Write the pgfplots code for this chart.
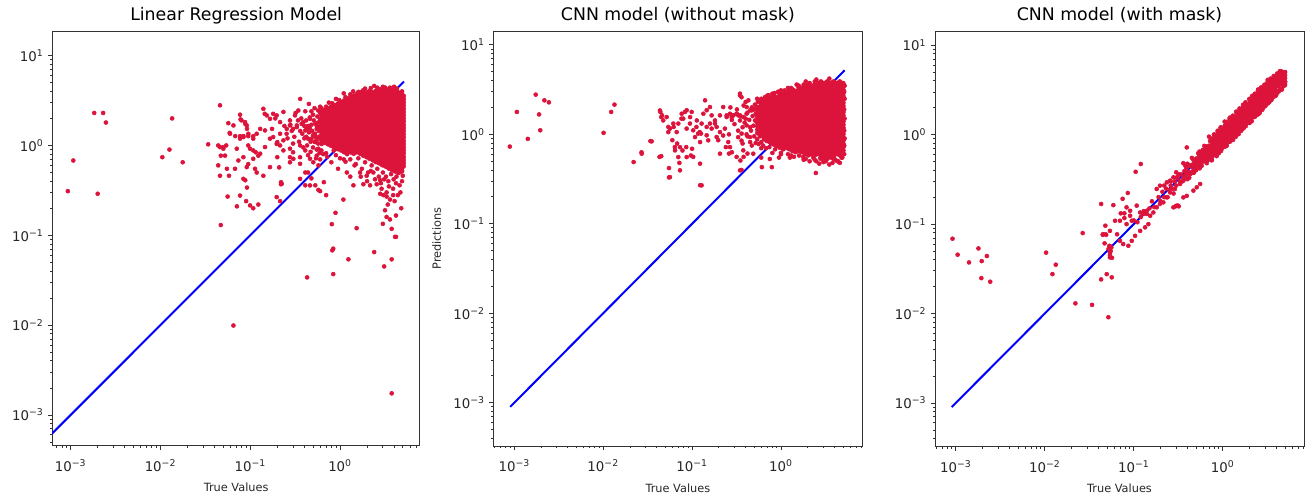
\documentclass[border=0pt]{standalone}
\usepackage{fontspec}
\setmainfont{DejaVu Sans}
\usepackage{pgfplots}
\pgfplotsset{compat=1.18}
\definecolor{crimson}{HTML}{DC143C}
\newcommand\ee[1]{10\textsuperscript{#1}}
\pgfplotsset{
  scale only axis,
  axis line style={draw=black!80, line width=0.75pt},
  tick align=outside, xtick pos=bottom, ytick pos=left,
  major tick length=3pt, minor tick length=1.8pt,
  tick style={black!80, line width=0.6pt},
  tick label style={font=\fontsize{10}{12}\selectfont, text=black!85},
  xticklabel style={yshift=-4pt},
  title style={at={(0.5,1)}, anchor=base, yshift=2pt, font=\fontsize{13}{15}\selectfont},
  xlabel style={at={(0.5,0)}, anchor=base, yshift=-34.7pt, font=\fontsize{8.5}{10}\selectfont, text=black!85},
  ylabel style={at={(-0.154,0.5)}, anchor=center, font=\fontsize{8.5}{10}\selectfont, text=black!85},
  redpts/.style={only marks, mark=*, mark size=1.5pt, color=crimson, mark options={draw=none, fill=crimson}},
  densepts/.style={only marks, mark=*, mark size=1.9pt, color=crimson, mark options={draw=none, fill=crimson}},
  bandpts/.style={only marks, mark=*, mark size=1.7pt, color=crimson, mark options={draw=none, fill=crimson}},
  fitline/.style={color=blue, line width=1.5pt, no marks},
}
\def\minorlist{2e-4,3e-4,4e-4,5e-4,6e-4,7e-4,8e-4,9e-4,2e-3,3e-3,4e-3,5e-3,6e-3,7e-3,8e-3,9e-3,0.02,0.03,0.04,0.05,0.06,0.07,0.08,0.09,0.2,0.3,0.4,0.5,0.6,0.7,0.8,0.9,2,3,4,5,6,7,8,9}
\begin{document}
\begin{tikzpicture}
\path[use as bounding box] (0,0) rectangle (984pt,372.75pt);
% ---------------- Panel 1 ----------------
\begin{axis}[xmode=log, ymode=log, anchor=south west, at={(39.2pt,38.5pt)}, width=275.8pt, height=311pt,
  xmin=6.24e-4, xmax=7.77, ymin=4.55e-4, ymax=18.8,
  xtick={1e-3,1e-2,1e-1,1}, xticklabels={\ee{−3},\ee{−2},\ee{−1},\ee{0}},
  ytick={1e-3,1e-2,1e-1,1,10}, yticklabels={\ee{−3},\ee{−2},\ee{−1},\ee{0},\ee{1}},
  minor xtick/.expanded=\minorlist, minor ytick/.expanded=\minorlist,
  title={Linear Regression Model}, xlabel={True Values}]
\addplot[redpts] coordinates {
(9.3e-4,0.31) (1.07e-3,0.68) (1.83e-3,2.3) (2.3e-3,2.3) (2.47e-3,1.8) (2.0e-3,0.29)
(0.0105,0.74) (0.0126,0.9) (0.0135,2.0) (0.0177,0.65) (0.034,1.03) (0.046,2.8) (0.047,0.13) (0.065,0.0099) (3.76,1.74e-3)
(0.43,0.034) (0.84,0.037) (1.24,0.054) (0.84,0.071) (0.82,0.068) (2.4,0.065) (3.1,0.045) (3.76,0.054) (4.1,0.096) (4.2,0.096) (1.53,0.12) (0.81,0.133) (0.89,0.178) (3.17,0.19) (3.3,0.16) (4.2,0.166) (3.0,0.134) (3.76,0.118) (3.6,0.15)
(0.077,2.2) (0.078,1.95) (0.088,1.74) (0.092,1.53) (0.065,1.67) (0.059,1.38) (0.068,1.27) (0.077,1.27) (0.084,1.27) (0.095,1.27) (0.108,1.27) (0.044,1.0) (0.046,0.96) (0.05,0.96) (0.054,1.0) (0.047,0.77) (0.044,0.6) (0.046,0.46) (0.055,0.55) (0.058,0.46) (0.056,0.27) (0.071,0.21) (0.088,0.41) (0.092,0.34) (0.09,0.24) (0.108,0.2) (0.123,0.22) (0.095,1.0) (0.108,0.88) (0.115,0.84) (0.123,0.77) (0.108,0.71) (0.095,0.62) (0.113,0.55) (0.118,0.5) (0.14,0.46) (0.14,2.56) (0.145,2.25) (0.153,2.16) (0.166,1.98) (0.18,2.25) (0.19,2.0) (0.175,1.53) (0.18,1.24) (0.215,1.35) (0.234,1.14) (0.254,1.35) (0.277,1.67) (0.30,1.53) (0.146,1.47) (0.166,1.19) (0.2,1.09) (0.215,1.0) (0.234,0.88) (0.277,0.74) (0.30,0.84) (0.2,0.74) (0.21,0.57) (0.22,0.39) (0.215,0.24) (0.22,0.37) (0.33,1.67) (0.374,1.74) (0.41,1.47) (0.44,1.19) (0.48,1.19) (0.53,1.09) (0.574,0.92) (0.36,1.0) (0.41,0.88) (0.36,3.3) (0.41,0.5) (0.44,0.5) (0.48,0.43) (0.53,0.36) (0.574,0.32) (0.6,0.31) (0.66,0.39) (0.7,0.28) (0.41,0.36) (1.09,0.25) (1.41,0.36) (1.82,0.37) (2.16,0.36) (2.56,0.37) (2.8,0.41) (1.19,0.5) (1.67,0.5) (1.98,0.46) (2.35,0.5) (2.8,0.29) (3.04,0.28) (3.3,0.27) (3.6,0.25) (3.9,0.28) (4.65,1.09) (4.86,0.77) (4.5,0.5)
(0.057,1.77) (0.08,1.9) (0.0875,1.82) (0.0914,1.67) (0.077,1.19) (0.0839,1.24) (0.0953,1.35) (0.0596,1.35) (0.0502,0.92) (0.0524,0.77) (0.0708,0.92) (0.0738,0.68) (0.0839,0.74) (0.0995,0.92) (0.108,1.19) (0.118,1.35) (0.129,1.53) (0.197,2.16) (0.215,1.82) (0.234,2.36) (0.255,1.53) (0.277,1.9) (0.315,2.16) (0.343,2.45) (0.39,1.82) (0.425,1.53) (0.463,1.98) (0.527,1.35) (0.55,1.53) (0.625,1.04) (0.55,0.77) (0.463,0.71) (0.359,0.74) (0.302,0.71) (0.277,0.92) (0.197,1.04) (0.146,0.96) (0.129,0.81) (0.166,0.574) (0.277,0.65) (0.359,0.625) (0.504,0.65) (0.574,0.6) (0.359,0.425) (0.463,0.359) (0.0914,0.574) (0.0677,0.55) (0.0839,0.425) (0.077,0.277) (0.0995,0.215) (0.224,0.374) (0.197,0.266)
(0.45,2.9) (0.6,2.7) (0.75,3.0) (0.9,3.3) (1.1,3.8) (1.4,4.0) (1.9,4.3) (2.4,4.6) (3.2,4.4) (4.0,4.5) (4.2,0.38) (3.5,0.35) (3.9,0.33) (4.9,0.4) (3.1,0.42) (2.7,0.45) (2.2,0.52) (1.5,0.62) (1.1,0.7) (0.9,0.78) (0.7,0.82) (4.7,0.3) (4.4,0.28) (3.3,0.3) (2.0,0.4) (1.7,0.45) (0.40,1.2) (0.43,1.0) (0.45,1.4) (0.48,1.7) (0.5,2.2) (0.52,1.1) (0.55,0.9) (0.57,1.8) (0.6,2.3) (0.58,1.25) (0.62,0.88) (0.47,0.85) (0.42,1.9) (0.38,1.35) (0.35,1.1) (0.33,1.6) (0.31,1.25) (0.29,1.45) (0.26,1.2) (0.24,1.65) (0.6,0.7) (0.65,0.8)
(0.36,1.45) (0.37,2.0) (0.39,0.95) (0.41,2.4) (0.42,1.25) (0.44,1.65) (0.44,0.78) (0.46,2.05) (0.47,1.1) (0.49,1.45) (0.5,0.95) (0.51,1.9) (0.52,2.6) (0.53,1.25) (0.54,0.72) (0.55,1.65) (0.56,2.1) (0.57,1.05) (0.58,1.45) (0.59,0.82) (0.6,1.95) (0.61,1.2) (0.62,2.6) (0.5,1.3) (0.46,1.55) (0.53,1.75) (0.57,2.45) (0.59,1.6) (0.55,1.15) (0.48,2.4) (0.4,1.65) (0.34,1.9) (0.32,2.3) (0.3,1.05) (0.28,1.7)
(1.0,0.72) (1.15,0.66) (1.3,0.7) (1.45,0.6) (1.6,0.72) (1.75,0.55) (1.9,0.65) (2.05,0.5) (2.25,0.6) (2.45,0.42) (2.6,0.55) (2.85,0.38) (3.0,0.5) (3.25,0.45) (3.45,0.4) (3.7,0.48) (3.95,0.42) (4.25,0.45) (4.6,0.36) (5.0,0.46) (4.05,0.24) (3.4,0.22) (4.8,0.2) (2.9,0.33) (1.3,0.45) (0.95,0.55) (0.8,0.65) (0.72,0.75) (1.2,0.8) (0.85,0.88)
(0.7,2.7) (0.82,2.95) (0.98,3.2) (1.15,3.45) (1.3,3.7) (1.6,3.95) (1.8,4.1) (2.2,4.35) (2.6,4.4) (3.0,4.5) (3.6,4.4) (4.3,4.3) (4.9,4.0)
};
\addplot[densepts] coordinates {
(0.63,1.13) (0.63,1.23) (0.63,1.33) (0.63,1.45) (0.63,1.57) (0.63,1.70) (0.63,1.85) (0.63,2.0) (0.63,2.17) (0.63,2.36)
(0.68,1.08) (0.68,1.18) (0.68,1.28) (0.68,1.39) (0.68,1.51) (0.68,1.63) (0.68,1.77) (0.68,1.92) (0.68,2.08) (0.68,2.26) (0.68,2.46)
(0.74,1.04) (0.74,1.13) (0.74,1.23) (0.74,1.33) (0.74,1.45) (0.74,1.57) (0.74,1.70) (0.74,1.85) (0.74,2.0) (0.74,2.17) (0.74,2.36) (0.74,2.56)
(0.80,1.00) (0.80,1.08) (0.80,1.18) (0.80,1.28) (0.80,1.39) (0.80,1.51) (0.80,1.63) (0.80,1.77) (0.80,1.92) (0.80,2.08) (0.80,2.26) (0.80,2.46) (0.80,2.67)
(0.87,0.96) (0.87,1.04) (0.87,1.13) (0.87,1.23) (0.87,1.33) (0.87,1.45) (0.87,1.57) (0.87,1.70) (0.87,1.85) (0.87,2.0) (0.87,2.17) (0.87,2.36) (0.87,2.56) (0.87,2.78)
(0.95,0.92) (0.95,1.00) (0.95,1.08) (0.95,1.18) (0.95,1.28) (0.95,1.39) (0.95,1.51) (0.95,1.63) (0.95,1.77) (0.95,1.92) (0.95,2.08) (0.95,2.26) (0.95,2.46) (0.95,2.67) (0.95,2.89)
(1.03,0.89) (1.03,0.96) (1.03,1.04) (1.03,1.13) (1.03,1.23) (1.03,1.33) (1.03,1.45) (1.03,1.57) (1.03,1.70) (1.03,1.85) (1.03,2.0) (1.03,2.17) (1.03,2.36) (1.03,2.56) (1.03,2.78) (1.03,3.01)
(1.12,0.85) (1.12,0.92) (1.12,1.00) (1.12,1.08) (1.12,1.18) (1.12,1.28) (1.12,1.39) (1.12,1.51) (1.12,1.63) (1.12,1.77) (1.12,1.92) (1.12,2.08) (1.12,2.26) (1.12,2.46) (1.12,2.67) (1.12,2.89) (1.12,3.14)
(1.21,0.89) (1.21,0.96) (1.21,1.04) (1.21,1.13) (1.21,1.23) (1.21,1.33) (1.21,1.45) (1.21,1.57) (1.21,1.70) (1.21,1.85) (1.21,2.0) (1.21,2.17) (1.21,2.36) (1.21,2.56) (1.21,2.78) (1.21,3.01) (1.21,3.27)
(1.31,0.85) (1.31,0.92) (1.31,1.00) (1.31,1.08) (1.31,1.18) (1.31,1.28) (1.31,1.39) (1.31,1.51) (1.31,1.63) (1.31,1.77) (1.31,1.92) (1.31,2.08) (1.31,2.26) (1.31,2.46) (1.31,2.67) (1.31,2.89) (1.31,3.14) (1.31,3.41)
(1.42,0.82) (1.42,0.89) (1.42,0.96) (1.42,1.04) (1.42,1.13) (1.42,1.23) (1.42,1.33) (1.42,1.45) (1.42,1.57) (1.42,1.70) (1.42,1.85) (1.42,2.0) (1.42,2.17) (1.42,2.36) (1.42,2.56) (1.42,2.78) (1.42,3.01) (1.42,3.27) (1.42,3.55)
(1.55,0.85) (1.55,0.92) (1.55,1.00) (1.55,1.08) (1.55,1.18) (1.55,1.28) (1.55,1.39) (1.55,1.51) (1.55,1.63) (1.55,1.77) (1.55,1.92) (1.55,2.08) (1.55,2.26) (1.55,2.46) (1.55,2.67) (1.55,2.89) (1.55,3.14) (1.55,3.41) (1.55,3.70)
(1.68,0.82) (1.68,0.89) (1.68,0.96) (1.68,1.04) (1.68,1.13) (1.68,1.23) (1.68,1.33) (1.68,1.45) (1.68,1.57) (1.68,1.70) (1.68,1.85) (1.68,2.0) (1.68,2.17) (1.68,2.36) (1.68,2.56) (1.68,2.78) (1.68,3.01) (1.68,3.27) (1.68,3.55) (1.68,3.85)
(1.82,0.78) (1.82,0.85) (1.82,0.92) (1.82,1.00) (1.82,1.08) (1.82,1.18) (1.82,1.28) (1.82,1.39) (1.82,1.51) (1.82,1.63) (1.82,1.77) (1.82,1.92) (1.82,2.08) (1.82,2.26) (1.82,2.46) (1.82,2.67) (1.82,2.89) (1.82,3.14) (1.82,3.41) (1.82,3.70)
(1.98,0.75) (1.98,0.82) (1.98,0.89) (1.98,0.96) (1.98,1.04) (1.98,1.13) (1.98,1.23) (1.98,1.33) (1.98,1.45) (1.98,1.57) (1.98,1.70) (1.98,1.85) (1.98,2.0) (1.98,2.17) (1.98,2.36) (1.98,2.56) (1.98,2.78) (1.98,3.01) (1.98,3.27) (1.98,3.55) (1.98,3.85)
(2.14,0.72) (2.14,0.78) (2.14,0.85) (2.14,0.92) (2.14,1.00) (2.14,1.08) (2.14,1.18) (2.14,1.28) (2.14,1.39) (2.14,1.51) (2.14,1.63) (2.14,1.77) (2.14,1.92) (2.14,2.08) (2.14,2.26) (2.14,2.46) (2.14,2.67) (2.14,2.89) (2.14,3.14) (2.14,3.41) (2.14,3.70) (2.14,4.01)
(2.33,0.69) (2.33,0.75) (2.33,0.82) (2.33,0.89) (2.33,0.96) (2.33,1.04) (2.33,1.13) (2.33,1.23) (2.33,1.33) (2.33,1.45) (2.33,1.57) (2.33,1.70) (2.33,1.85) (2.33,2.0) (2.33,2.17) (2.33,2.36) (2.33,2.56) (2.33,2.78) (2.33,3.01) (2.33,3.27) (2.33,3.55) (2.33,3.85)
(2.52,0.66) (2.52,0.72) (2.52,0.78) (2.52,0.85) (2.52,0.92) (2.52,1.00) (2.52,1.08) (2.52,1.18) (2.52,1.28) (2.52,1.39) (2.52,1.51) (2.52,1.63) (2.52,1.77) (2.52,1.92) (2.52,2.08) (2.52,2.26) (2.52,2.46) (2.52,2.67) (2.52,2.89) (2.52,3.14) (2.52,3.41) (2.52,3.70) (2.52,4.01)
(2.74,0.64) (2.74,0.69) (2.74,0.75) (2.74,0.82) (2.74,0.89) (2.74,0.96) (2.74,1.04) (2.74,1.13) (2.74,1.23) (2.74,1.33) (2.74,1.45) (2.74,1.57) (2.74,1.70) (2.74,1.85) (2.74,2.0) (2.74,2.17) (2.74,2.36) (2.74,2.56) (2.74,2.78) (2.74,3.01) (2.74,3.27) (2.74,3.55) (2.74,3.85) (2.74,4.18)
(2.97,0.61) (2.97,0.66) (2.97,0.72) (2.97,0.78) (2.97,0.85) (2.97,0.92) (2.97,1.00) (2.97,1.08) (2.97,1.18) (2.97,1.28) (2.97,1.39) (2.97,1.51) (2.97,1.63) (2.97,1.77) (2.97,1.92) (2.97,2.08) (2.97,2.26) (2.97,2.46) (2.97,2.67) (2.97,2.89) (2.97,3.14) (2.97,3.41) (2.97,3.70) (2.97,4.01)
(3.22,0.59) (3.22,0.64) (3.22,0.69) (3.22,0.75) (3.22,0.82) (3.22,0.89) (3.22,0.96) (3.22,1.04) (3.22,1.13) (3.22,1.23) (3.22,1.33) (3.22,1.45) (3.22,1.57) (3.22,1.70) (3.22,1.85) (3.22,2.0) (3.22,2.17) (3.22,2.36) (3.22,2.56) (3.22,2.78) (3.22,3.01) (3.22,3.27) (3.22,3.55) (3.22,3.85) (3.22,4.18)
(3.50,0.56) (3.50,0.61) (3.50,0.66) (3.50,0.72) (3.50,0.78) (3.50,0.85) (3.50,0.92) (3.50,1.00) (3.50,1.08) (3.50,1.18) (3.50,1.28) (3.50,1.39) (3.50,1.51) (3.50,1.63) (3.50,1.77) (3.50,1.92) (3.50,2.08) (3.50,2.26) (3.50,2.46) (3.50,2.67) (3.50,2.89) (3.50,3.14) (3.50,3.41) (3.50,3.70) (3.50,4.01)
(3.80,0.54) (3.80,0.59) (3.80,0.64) (3.80,0.69) (3.80,0.75) (3.80,0.82) (3.80,0.89) (3.80,0.96) (3.80,1.04) (3.80,1.13) (3.80,1.23) (3.80,1.33) (3.80,1.45) (3.80,1.57) (3.80,1.70) (3.80,1.85) (3.80,2.0) (3.80,2.17) (3.80,2.36) (3.80,2.56) (3.80,2.78) (3.80,3.01) (3.80,3.27) (3.80,3.55) (3.80,3.85) (3.80,4.18)
(4.12,0.52) (4.12,0.56) (4.12,0.61) (4.12,0.66) (4.12,0.72) (4.12,0.78) (4.12,0.85) (4.12,0.92) (4.12,1.00) (4.12,1.08) (4.12,1.18) (4.12,1.28) (4.12,1.39) (4.12,1.51) (4.12,1.63) (4.12,1.77) (4.12,1.92) (4.12,2.08) (4.12,2.26) (4.12,2.46) (4.12,2.67) (4.12,2.89) (4.12,3.14) (4.12,3.41) (4.12,3.70) (4.12,4.01)
(4.47,0.50) (4.47,0.54) (4.47,0.59) (4.47,0.64) (4.47,0.69) (4.47,0.75) (4.47,0.82) (4.47,0.89) (4.47,0.96) (4.47,1.04) (4.47,1.13) (4.47,1.23) (4.47,1.33) (4.47,1.45) (4.47,1.57) (4.47,1.70) (4.47,1.85) (4.47,2.0) (4.47,2.17) (4.47,2.36) (4.47,2.56) (4.47,2.78) (4.47,3.01) (4.47,3.27) (4.47,3.55) (4.47,3.85)
(4.85,0.52) (4.85,0.56) (4.85,0.61) (4.85,0.66) (4.85,0.72) (4.85,0.78) (4.85,0.85) (4.85,0.92) (4.85,1.00) (4.85,1.08) (4.85,1.18) (4.85,1.28) (4.85,1.39) (4.85,1.51) (4.85,1.63) (4.85,1.77) (4.85,1.92) (4.85,2.08) (4.85,2.26) (4.85,2.46) (4.85,2.67) (4.85,2.89) (4.85,3.14) (4.85,3.41) (4.85,3.70)
(5.05,0.59) (5.05,0.64) (5.05,0.69) (5.05,0.75) (5.05,0.82) (5.05,0.89) (5.05,0.96) (5.05,1.04) (5.05,1.13) (5.05,1.23) (5.05,1.33) (5.05,1.45) (5.05,1.57) (5.05,1.70) (5.05,1.85) (5.05,2.0) (5.05,2.17) (5.05,2.36) (5.05,2.56) (5.05,2.78) (5.05,3.01) (5.05,3.27) (5.05,3.55)
};
\addplot[fitline] coordinates {(5e-4,5e-4) (5.15,5.15)};
\end{axis}
% ---------------- Panel 2 ----------------
\begin{axis}[xmode=log, ymode=log, anchor=south west, at={(370.1pt,38.25pt)}, width=276.6pt, height=311.25pt,
  xmin=5.83e-4, xmax=8.22, ymin=3.28e-4, ymax=14.3,
  xtick={1e-3,1e-2,1e-1,1}, xticklabels={\ee{−3},\ee{−2},\ee{−1},\ee{0}},
  ytick={1e-3,1e-2,1e-1,1,10}, yticklabels={\ee{−3},\ee{−2},\ee{−1},\ee{0},\ee{1}},
  minor xtick/.expanded=\minorlist, minor ytick/.expanded=\minorlist,
  title={CNN model (without mask)}, xlabel={True Values}, ylabel={Predictions}]
\addplot[redpts] coordinates {
(8.9e-4,0.73) (1.07e-3,1.78) (1.42e-3,0.89) (1.74e-3,2.78) (1.9e-3,1.67) (1.96e-3,1.11) (2.18e-3,2.4) (2.45e-3,2.28) (0.0101,1.04) (0.0123,1.78) (0.0134,2.15) (0.022,0.49) (0.027,0.63) (0.034,0.84) (0.043,0.56) (0.045,0.57) (0.055,0.42) (0.055,0.33) (0.072,0.48) (0.123,0.27) (0.36,0.40) (2.47,0.37) (0.61,0.43) (0.79,0.43) (5.0,1.18)
(0.044,1.78) (0.046,1.63) (0.045,1.56) (0.054,1.21) (0.054,1.06) (0.062,1.21) (0.07,1.32) (0.076,1.5) (0.087,1.86) (0.095,1.56) (0.06,0.86) (0.064,0.72) (0.068,0.79) (0.078,0.66) (0.086,0.72) (0.097,0.58) (0.103,0.56) (0.1,0.69)
(0.103,1.11) (0.112,1.21) (0.122,1.06) (0.126,1.02) (0.146,1.21) (0.159,1.32) (0.14,2.4) (0.146,1.86) (0.166,1.63) (0.181,1.43) (0.189,1.21) (0.206,1.06) (0.224,0.97) (0.197,0.86)
(0.245,1.63) (0.267,1.7) (0.29,1.63) (0.317,1.7) (0.346,1.63) (0.377,1.56) (0.41,1.7) (0.45,1.86) (0.49,1.9) (0.346,2.85) (0.36,2.6) (0.24,0.72) (0.26,0.61) (0.28,0.63) (0.317,0.56) (0.35,0.51) (0.38,0.56) (0.42,0.61) (0.37,0.79) (0.33,0.93) (0.6,0.55) (0.75,0.53) (0.95,0.55) (1.26,0.55) (1.78,0.56) (2.31,0.55) (3.0,0.53) (3.88,0.55) (4.4,0.5)
(0.0271,0.608) (0.0351,0.835) (0.0435,1.85) (0.0474,1.43) (0.0518,1.56) (0.0564,1.16) (0.0615,1.32) (0.0643,0.662) (0.0671,1.06) (0.07,0.557) (0.0731,0.72) (0.0764,1.7) (0.0796,1.5) (0.0832,1.78) (0.0869,1.16) (0.0947,1.32) (0.099,1.78) (0.108,0.933) (0.113,1.43) (0.117,1.02) (0.123,0.82) (0.128,1.32) (0.134,1.7) (0.146,0.975) (0.152,0.857) (0.159,2.02) (0.166,1.16) (0.181,1.32) (0.189,0.933) (0.206,1.63) (0.224,2.02) (0.234,1.16) (0.245,1.56) (0.255,0.82) (0.267,0.72) (0.279,1.56) (0.291,1.63) (0.318,1.7) (0.331,1.63) (0.346,2.73) (0.346,1.43) (0.361,1.02) (0.377,0.662) (0.411,2.02) (0.411,1.26) (0.448,0.933) (0.468,1.85) (0.488,0.608) (0.51,1.43) (0.346,0.396) (0.206,0.608) (0.123,0.47) (0.0869,0.557) (0.0731,0.396) (0.0564,0.333) (0.128,0.269)
(0.5,1.9) (0.55,2.3) (0.6,2.5) (0.7,2.7) (0.85,2.9) (1.0,3.1) (1.2,3.3) (1.5,3.6) (1.9,3.9) (2.5,4.1) (3.5,4.2) (0.52,0.8) (0.6,0.7) (0.8,0.62) (1.0,0.6) (1.3,0.58) (1.8,0.52) (2.4,0.52) (3.0,0.49) (3.8,0.48) (4.3,0.5) (4.8,0.55) (0.45,1.2) (0.4,1.5) (0.42,0.95) (0.47,0.75) (5.2,1.5) (5.2,2.5) (5.2,3.5) (5.2,0.9)
(0.3,1.3) (0.32,1.9) (0.33,1.1) (0.35,1.6) (0.36,0.85) (0.38,2.1) (0.39,1.35) (0.41,1.0) (0.42,1.75) (0.43,2.4) (0.44,1.45) (0.45,0.82) (0.46,1.1) (0.47,2.0) (0.48,1.6) (0.49,1.25) (0.5,0.95) (0.51,2.15) (0.52,1.7) (0.53,1.4) (0.54,2.5) (0.54,0.88) (0.56,0.78) (0.57,2.35) (0.58,0.95) (0.6,0.82) (0.62,2.45) (0.63,0.75) (0.66,2.6) (0.68,0.7) (0.72,2.75) (0.74,0.72) (0.8,2.85) (0.86,0.68) (0.93,3.0) (1.1,3.1) (1.3,3.3) (1.55,3.55) (1.8,3.6) (2.1,3.75) (2.4,3.9) (0.4,2.3) (0.37,1.2) (0.28,1.45) (0.26,1.0) (0.27,2.0)
(1.0,0.62) (1.2,0.6) (1.4,0.56) (1.6,0.58) (1.9,0.53) (2.1,0.5) (2.5,0.5) (2.7,0.47) (3.2,0.5) (3.5,0.46) (4.1,0.52) (4.6,0.48) (4.9,0.55) (5.15,0.6) (5.15,0.75) (5.15,1.1) (5.15,1.9) (5.15,3.0)
};
\addplot[densepts] coordinates {
(0.55,1.04) (0.55,1.13) (0.55,1.23) (0.55,1.33) (0.55,1.45) (0.55,1.57) (0.55,1.70) (0.55,1.85) (0.55,2.0)
(0.60,1.00) (0.60,1.08) (0.60,1.18) (0.60,1.28) (0.60,1.39) (0.60,1.51) (0.60,1.63) (0.60,1.77) (0.60,1.92) (0.60,2.08) (0.60,2.26)
(0.65,0.89) (0.65,0.96) (0.65,1.04) (0.65,1.13) (0.65,1.23) (0.65,1.33) (0.65,1.45) (0.65,1.57) (0.65,1.70) (0.65,1.85) (0.65,2.0) (0.65,2.17) (0.65,2.36)
(0.70,0.85) (0.70,0.92) (0.70,1.00) (0.70,1.08) (0.70,1.18) (0.70,1.28) (0.70,1.39) (0.70,1.51) (0.70,1.63) (0.70,1.77) (0.70,1.92) (0.70,2.08) (0.70,2.26) (0.70,2.46)
(0.76,0.82) (0.76,0.89) (0.76,0.96) (0.76,1.04) (0.76,1.13) (0.76,1.23) (0.76,1.33) (0.76,1.45) (0.76,1.57) (0.76,1.70) (0.76,1.85) (0.76,2.0) (0.76,2.17) (0.76,2.36) (0.76,2.56)
(0.83,0.78) (0.83,0.85) (0.83,0.92) (0.83,1.00) (0.83,1.08) (0.83,1.18) (0.83,1.28) (0.83,1.39) (0.83,1.51) (0.83,1.63) (0.83,1.77) (0.83,1.92) (0.83,2.08) (0.83,2.26) (0.83,2.46) (0.83,2.67)
(0.90,0.75) (0.90,0.82) (0.90,0.89) (0.90,0.96) (0.90,1.04) (0.90,1.13) (0.90,1.23) (0.90,1.33) (0.90,1.45) (0.90,1.57) (0.90,1.70) (0.90,1.85) (0.90,2.0) (0.90,2.17) (0.90,2.36) (0.90,2.56)
(0.97,0.72) (0.97,0.78) (0.97,0.85) (0.97,0.92) (0.97,1.00) (0.97,1.08) (0.97,1.18) (0.97,1.28) (0.97,1.39) (0.97,1.51) (0.97,1.63) (0.97,1.77) (0.97,1.92) (0.97,2.08) (0.97,2.26) (0.97,2.46) (0.97,2.67) (0.97,2.89)
(1.06,0.69) (1.06,0.75) (1.06,0.82) (1.06,0.89) (1.06,0.96) (1.06,1.04) (1.06,1.13) (1.06,1.23) (1.06,1.33) (1.06,1.45) (1.06,1.57) (1.06,1.70) (1.06,1.85) (1.06,2.0) (1.06,2.17) (1.06,2.36) (1.06,2.56) (1.06,2.78)
(1.15,0.72) (1.15,0.78) (1.15,0.85) (1.15,0.92) (1.15,1.00) (1.15,1.08) (1.15,1.18) (1.15,1.28) (1.15,1.39) (1.15,1.51) (1.15,1.63) (1.15,1.77) (1.15,1.92) (1.15,2.08) (1.15,2.26) (1.15,2.46) (1.15,2.67) (1.15,2.89)
(1.24,0.69) (1.24,0.75) (1.24,0.82) (1.24,0.89) (1.24,0.96) (1.24,1.04) (1.24,1.13) (1.24,1.23) (1.24,1.33) (1.24,1.45) (1.24,1.57) (1.24,1.70) (1.24,1.85) (1.24,2.0) (1.24,2.17) (1.24,2.36) (1.24,2.56) (1.24,2.78) (1.24,3.01)
(1.35,0.66) (1.35,0.72) (1.35,0.78) (1.35,0.85) (1.35,0.92) (1.35,1.00) (1.35,1.08) (1.35,1.18) (1.35,1.28) (1.35,1.39) (1.35,1.51) (1.35,1.63) (1.35,1.77) (1.35,1.92) (1.35,2.08) (1.35,2.26) (1.35,2.46) (1.35,2.67) (1.35,2.89) (1.35,3.14)
(1.46,0.64) (1.46,0.69) (1.46,0.75) (1.46,0.82) (1.46,0.89) (1.46,0.96) (1.46,1.04) (1.46,1.13) (1.46,1.23) (1.46,1.33) (1.46,1.45) (1.46,1.57) (1.46,1.70) (1.46,1.85) (1.46,2.0) (1.46,2.17) (1.46,2.36) (1.46,2.56) (1.46,2.78) (1.46,3.01)
(1.59,0.66) (1.59,0.72) (1.59,0.78) (1.59,0.85) (1.59,0.92) (1.59,1.00) (1.59,1.08) (1.59,1.18) (1.59,1.28) (1.59,1.39) (1.59,1.51) (1.59,1.63) (1.59,1.77) (1.59,1.92) (1.59,2.08) (1.59,2.26) (1.59,2.46) (1.59,2.67) (1.59,2.89) (1.59,3.14) (1.59,3.41)
(1.72,0.64) (1.72,0.69) (1.72,0.75) (1.72,0.82) (1.72,0.89) (1.72,0.96) (1.72,1.04) (1.72,1.13) (1.72,1.23) (1.72,1.33) (1.72,1.45) (1.72,1.57) (1.72,1.70) (1.72,1.85) (1.72,2.0) (1.72,2.17) (1.72,2.36) (1.72,2.56) (1.72,2.78) (1.72,3.01) (1.72,3.27)
(1.87,0.61) (1.87,0.66) (1.87,0.72) (1.87,0.78) (1.87,0.85) (1.87,0.92) (1.87,1.00) (1.87,1.08) (1.87,1.18) (1.87,1.28) (1.87,1.39) (1.87,1.51) (1.87,1.63) (1.87,1.77) (1.87,1.92) (1.87,2.08) (1.87,2.26) (1.87,2.46) (1.87,2.67) (1.87,2.89) (1.87,3.14) (1.87,3.41)
(2.03,0.59) (2.03,0.64) (2.03,0.69) (2.03,0.75) (2.03,0.82) (2.03,0.89) (2.03,0.96) (2.03,1.04) (2.03,1.13) (2.03,1.23) (2.03,1.33) (2.03,1.45) (2.03,1.57) (2.03,1.70) (2.03,1.85) (2.03,2.0) (2.03,2.17) (2.03,2.36) (2.03,2.56) (2.03,2.78) (2.03,3.01) (2.03,3.27) (2.03,3.55)
(2.20,0.61) (2.20,0.66) (2.20,0.72) (2.20,0.78) (2.20,0.85) (2.20,0.92) (2.20,1.00) (2.20,1.08) (2.20,1.18) (2.20,1.28) (2.20,1.39) (2.20,1.51) (2.20,1.63) (2.20,1.77) (2.20,1.92) (2.20,2.08) (2.20,2.26) (2.20,2.46) (2.20,2.67) (2.20,2.89) (2.20,3.14) (2.20,3.41)
(2.39,0.59) (2.39,0.64) (2.39,0.69) (2.39,0.75) (2.39,0.82) (2.39,0.89) (2.39,0.96) (2.39,1.04) (2.39,1.13) (2.39,1.23) (2.39,1.33) (2.39,1.45) (2.39,1.57) (2.39,1.70) (2.39,1.85) (2.39,2.0) (2.39,2.17) (2.39,2.36) (2.39,2.56) (2.39,2.78) (2.39,3.01) (2.39,3.27) (2.39,3.55)
(2.59,0.61) (2.59,0.66) (2.59,0.72) (2.59,0.78) (2.59,0.85) (2.59,0.92) (2.59,1.00) (2.59,1.08) (2.59,1.18) (2.59,1.28) (2.59,1.39) (2.59,1.51) (2.59,1.63) (2.59,1.77) (2.59,1.92) (2.59,2.08) (2.59,2.26) (2.59,2.46) (2.59,2.67) (2.59,2.89) (2.59,3.14) (2.59,3.41) (2.59,3.70)
(2.81,0.54) (2.81,0.59) (2.81,0.64) (2.81,0.69) (2.81,0.75) (2.81,0.82) (2.81,0.89) (2.81,0.96) (2.81,1.04) (2.81,1.13) (2.81,1.23) (2.81,1.33) (2.81,1.45) (2.81,1.57) (2.81,1.70) (2.81,1.85) (2.81,2.0) (2.81,2.17) (2.81,2.36) (2.81,2.56) (2.81,2.78) (2.81,3.01) (2.81,3.27) (2.81,3.55) (2.81,3.85)
(3.05,0.56) (3.05,0.61) (3.05,0.66) (3.05,0.72) (3.05,0.78) (3.05,0.85) (3.05,0.92) (3.05,1.00) (3.05,1.08) (3.05,1.18) (3.05,1.28) (3.05,1.39) (3.05,1.51) (3.05,1.63) (3.05,1.77) (3.05,1.92) (3.05,2.08) (3.05,2.26) (3.05,2.46) (3.05,2.67) (3.05,2.89) (3.05,3.14) (3.05,3.41) (3.05,3.70)
(3.31,0.54) (3.31,0.59) (3.31,0.64) (3.31,0.69) (3.31,0.75) (3.31,0.82) (3.31,0.89) (3.31,0.96) (3.31,1.04) (3.31,1.13) (3.31,1.23) (3.31,1.33) (3.31,1.45) (3.31,1.57) (3.31,1.70) (3.31,1.85) (3.31,2.0) (3.31,2.17) (3.31,2.36) (3.31,2.56) (3.31,2.78) (3.31,3.01) (3.31,3.27) (3.31,3.55) (3.31,3.85)
(3.59,0.56) (3.59,0.61) (3.59,0.66) (3.59,0.72) (3.59,0.78) (3.59,0.85) (3.59,0.92) (3.59,1.00) (3.59,1.08) (3.59,1.18) (3.59,1.28) (3.59,1.39) (3.59,1.51) (3.59,1.63) (3.59,1.77) (3.59,1.92) (3.59,2.08) (3.59,2.26) (3.59,2.46) (3.59,2.67) (3.59,2.89) (3.59,3.14) (3.59,3.41) (3.59,3.70)
(3.90,0.54) (3.90,0.59) (3.90,0.64) (3.90,0.69) (3.90,0.75) (3.90,0.82) (3.90,0.89) (3.90,0.96) (3.90,1.04) (3.90,1.13) (3.90,1.23) (3.90,1.33) (3.90,1.45) (3.90,1.57) (3.90,1.70) (3.90,1.85) (3.90,2.0) (3.90,2.17) (3.90,2.36) (3.90,2.56) (3.90,2.78) (3.90,3.01) (3.90,3.27) (3.90,3.55) (3.90,3.85)
(4.23,0.61) (4.23,0.66) (4.23,0.72) (4.23,0.78) (4.23,0.85) (4.23,0.92) (4.23,1.00) (4.23,1.08) (4.23,1.18) (4.23,1.28) (4.23,1.39) (4.23,1.51) (4.23,1.63) (4.23,1.77) (4.23,1.92) (4.23,2.08) (4.23,2.26) (4.23,2.46) (4.23,2.67) (4.23,2.89) (4.23,3.14) (4.23,3.41) (4.23,3.70)
(4.59,0.59) (4.59,0.64) (4.59,0.69) (4.59,0.75) (4.59,0.82) (4.59,0.89) (4.59,0.96) (4.59,1.04) (4.59,1.13) (4.59,1.23) (4.59,1.33) (4.59,1.45) (4.59,1.57) (4.59,1.70) (4.59,1.85) (4.59,2.0) (4.59,2.17) (4.59,2.36) (4.59,2.56) (4.59,2.78) (4.59,3.01) (4.59,3.27) (4.59,3.55) (4.59,3.85)
(4.98,0.66) (4.98,0.72) (4.98,0.78) (4.98,0.85) (4.98,0.92) (4.98,1.00) (4.98,1.08) (4.98,1.18) (4.98,1.28) (4.98,1.39) (4.98,1.51) (4.98,1.63) (4.98,1.77) (4.98,1.92) (4.98,2.08) (4.98,2.26) (4.98,2.46) (4.98,2.67) (4.98,2.89) (4.98,3.14) (4.98,3.41) (4.98,3.70)
};
\addplot[fitline] coordinates {(9e-4,9e-4) (5.2,5.2)};
\end{axis}
% ---------------- Panel 3 ----------------
\begin{axis}[xmode=log, ymode=log, anchor=south west, at={(701.25pt,37.75pt)}, width=276.75pt, height=311.5pt,
  xmin=5.85e-4, xmax=8.18, ymin=3.25e-4, ymax=14.3,
  xtick={1e-3,1e-2,1e-1,1}, xticklabels={\ee{−3},\ee{−2},\ee{−1},\ee{0}},
  ytick={1e-3,1e-2,1e-1,1,10}, yticklabels={\ee{−3},\ee{−2},\ee{−1},\ee{0},\ee{1}},
  minor xtick/.expanded=\minorlist, minor ytick/.expanded=\minorlist,
  title={CNN model (with mask)}, xlabel={True Values}]
\addplot[redpts] coordinates {
(9.2e-4,0.0687) (1.05e-3,0.0455) (1.41e-3,0.0373) (1.8e-3,0.0535) (1.96e-3,0.0386) (1.94e-3,0.0249) (2.24e-3,0.044) (2.44e-3,0.0227) (0.01035,0.048) (0.0133,0.0352) (0.0122,0.0276) (0.0221,0.013) (0.034,0.0125) (0.0267,0.0794) (0.0519,0.0091) (0.043,0.0241) (0.0497,0.0276) (0.0566,0.0254) (0.043,0.168) (0.048,0.096) (0.045,0.077) (0.048,0.077) (0.059,0.163) (0.0857,0.223) (0.075,0.192) (0.105,0.385) (0.12,0.47) (0.055,0.05) (0.054,0.045) (0.056,0.055) (0.057,0.042) (0.065,0.077) (0.053,0.057)
(0.394,0.72) (0.0714,0.132) (0.0785,0.132) (0.0785,0.117) (0.091,0.124) (0.095,0.109) (0.083,0.1) (0.07,0.109) (0.0616,0.109) (0.054,0.084) (0.049,0.076) (0.0448,0.076) (0.047,0.061) (0.054,0.057) (0.052,0.0527) (0.054,0.048) (0.054,0.0425) (0.07,0.065) (0.076,0.0599) (0.087,0.0573) (0.095,0.065) (0.1035,0.074) (0.118,0.084) (0.134,0.092) (0.146,0.1) (0.083,0.154) (0.091,0.141) (0.108,0.161) (0.118,0.135) (0.128,0.13) (0.14,0.141) (0.153,0.124) (0.166,0.135) (0.181,0.154) (0.197,0.168) (0.215,0.175) (0.235,0.199) (0.256,0.226) (0.29,0.247) (0.181,0.247) (0.197,0.269) (0.235,0.293) (0.256,0.306) (0.279,0.333) (0.304,0.333) (0.331,0.281) (0.361,0.306) (0.394,0.363) (0.429,0.379) (0.468,0.396) (0.51,0.431) (0.556,0.47) (0.606,0.512) (0.661,0.582) (0.279,0.154) (0.304,0.161) (0.315,0.161) (0.361,0.199) (0.394,0.207) (0.468,0.237) (0.51,0.258) (0.556,0.281) (0.294,0.158) (0.32,0.158) (0.394,0.45)
(0.32,0.36) (0.35,0.30) (0.38,0.45) (0.42,0.33) (0.45,0.55) (0.5,0.4) (0.53,0.62) (0.58,0.45) (0.62,0.75) (0.68,0.52) (0.72,0.85) (0.8,0.6) (0.85,1.0) (0.95,0.68) (1.1,0.75) (1.3,0.9) (1.6,1.1) (2.0,1.35) (2.6,1.75) (3.3,2.3) (4.0,2.8) (1.2,1.55) (1.8,2.3) (2.5,3.2) (3.2,4.1) (0.55,0.42) (0.66,0.48) (0.75,0.55) (0.9,0.62) (1.4,0.95) (1.05,1.4) (0.7,0.95) (0.36,0.48) (0.28,0.22) (0.3,0.38) (0.26,0.3) (0.24,0.2) (0.22,0.27)
(0.15,0.15) (0.16,0.18) (0.17,0.155) (0.19,0.2) (0.2,0.18) (0.21,0.23) (0.22,0.2) (0.23,0.25) (0.25,0.24) (0.26,0.27) (0.27,0.25) (0.29,0.3) (0.3,0.27) (0.31,0.33) (0.33,0.3) (0.34,0.36) (0.36,0.33) (0.37,0.39) (0.38,0.35) (0.39,0.42) (0.12,0.12) (0.13,0.14) (0.11,0.105) (0.1,0.11) (0.14,0.13)
};
\addplot[bandpts] coordinates {
(0.8,1.0) (0.88,1.1) (0.95,1.2) (1.1,1.38) (1.2,1.5) (1.3,1.62) (1.42,1.8) (1.55,1.95) (1.7,2.15) (1.8,2.2) (2.0,2.5) (2.15,2.7) (2.3,2.85) (2.5,3.1) (2.7,3.35) (2.95,3.6) (3.2,3.85) (3.45,4.2) (3.75,4.5) (4.1,4.8) (4.4,5.1)
(0.75,0.52) (0.85,0.58) (0.95,0.66) (1.1,0.76) (1.2,0.84) (1.3,0.88) (1.5,1.02) (1.65,1.15) (1.8,1.25) (2.1,1.42) (2.3,1.6) (2.5,1.7) (2.75,1.9) (3.0,2.1) (3.2,2.25) (3.5,2.45) (3.8,2.7) (4.1,3.0) (4.4,3.2) (4.8,3.5) (5.0,3.9)
(0.90,0.63) (1.06,0.74) (1.24,0.87) (1.46,1.02) (1.72,1.2) (2.03,1.42) (2.39,1.67) (2.81,1.97) (3.31,2.32) (3.90,2.73) (4.59,3.21)
(0.97,0.70) (1.15,0.83) (1.35,0.97) (1.59,1.14) (1.87,1.35) (2.20,1.58) (2.59,1.86) (3.05,2.2) (3.59,2.58) (4.23,3.05) (4.98,3.6)
(0.40,0.32) (0.40,0.39) (0.40,0.47)
(0.43,0.365) (0.43,0.45)
(0.47,0.376) (0.47,0.423) (0.47,0.47) (0.47,0.526)
(0.51,0.434) (0.51,0.485) (0.51,0.54)
(0.55,0.44) (0.55,0.484) (0.55,0.534) (0.55,0.589) (0.55,0.644)
(0.60,0.504) (0.60,0.552) (0.60,0.606) (0.60,0.672)
(0.65,0.507) (0.65,0.559) (0.65,0.611) (0.65,0.67) (0.65,0.735)
(0.70,0.574) (0.70,0.63) (0.70,0.686) (0.70,0.749)
(0.76,0.585) (0.76,0.638) (0.76,0.70) (0.76,0.76) (0.76,0.83) (0.76,0.90)
(0.83,0.664) (0.83,0.722) (0.83,0.789) (0.83,0.863) (0.83,0.938)
(0.90,0.666) (0.90,0.72) (0.90,0.783) (0.90,0.846) (0.90,0.918) (0.90,0.99) (0.90,1.07)
(0.97,0.747) (0.97,0.81) (0.97,0.878) (0.97,0.951) (0.97,1.03) (0.97,1.11)
(1.06,0.784) (1.06,0.848) (1.06,0.922) (1.06,0.996) (1.06,1.08) (1.06,1.17) (1.06,1.26)
(1.15,0.886) (1.15,0.96) (1.15,1.04) (1.15,1.13) (1.15,1.22) (1.15,1.32)
(1.24,0.918) (1.24,0.992) (1.24,1.08) (1.24,1.17) (1.24,1.26) (1.24,1.36) (1.24,1.48)
(1.35,1.04) (1.35,1.13) (1.35,1.22) (1.35,1.32) (1.35,1.43) (1.35,1.55)
(1.46,1.08) (1.46,1.17) (1.46,1.27) (1.46,1.37) (1.46,1.49) (1.46,1.61) (1.46,1.74)
(1.59,1.22) (1.59,1.33) (1.59,1.44) (1.59,1.56) (1.59,1.69) (1.59,1.82)
(1.72,1.27) (1.72,1.38) (1.72,1.50) (1.72,1.62) (1.72,1.75) (1.72,1.89) (1.72,2.05)
(1.87,1.44) (1.87,1.56) (1.87,1.69) (1.87,1.83) (1.87,1.98) (1.87,2.14)
(2.03,1.50) (2.03,1.62) (2.03,1.77) (2.03,1.91) (2.03,2.07) (2.03,2.23) (2.03,2.42)
(2.20,1.69) (2.20,1.84) (2.20,1.99) (2.20,2.16) (2.20,2.33) (2.20,2.52)
(2.39,1.77) (2.39,1.91) (2.39,2.08) (2.39,2.25) (2.39,2.44) (2.39,2.63) (2.39,2.84)
(2.59,1.99) (2.59,2.16) (2.59,2.34) (2.59,2.54) (2.59,2.75) (2.59,2.97)
(2.81,2.08) (2.81,2.25) (2.81,2.44) (2.81,2.64) (2.81,2.87) (2.81,3.09) (2.81,3.34)
(3.05,2.35) (3.05,2.55) (3.05,2.76) (3.05,2.99) (3.05,3.23) (3.05,3.49)
(3.31,2.45) (3.31,2.65) (3.31,2.88) (3.31,3.11) (3.31,3.38) (3.31,3.64) (3.31,3.94)
(3.59,2.76) (3.59,3.0) (3.59,3.25) (3.59,3.52) (3.59,3.81) (3.59,4.11)
(3.90,3.12) (3.90,3.39) (3.90,3.67) (3.90,3.98) (3.90,4.29)
(4.23,3.53) (4.23,3.83) (4.23,4.15) (4.23,4.48)
(4.59,3.67) (4.59,3.99) (4.59,4.31) (4.59,4.68) (4.59,5.05)
(4.98,4.28) (4.98,4.63) (4.98,4.98)
};
\addplot[fitline] coordinates {(9e-4,9e-4) (5.2,5.2)};
\end{axis}
\end{tikzpicture}
\end{document}
